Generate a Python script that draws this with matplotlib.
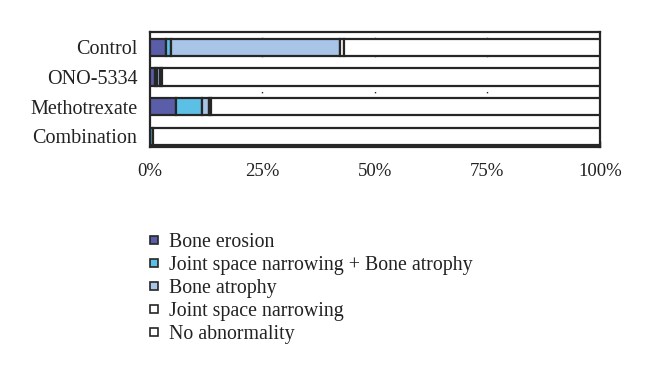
import matplotlib.pyplot as plt
from matplotlib.patches import Patch
import numpy as np

plt.rcParams['font.family'] = ['Liberation Serif', 'DejaVu Serif']

groups = ['Control', 'ONO-5334', 'Methotrexate', 'Combination']
categories = ['Bone erosion', 'Joint space narrowing + Bone atrophy',
              'Bone atrophy', 'Joint space narrowing', 'No abnormality']
colors = ['#5a5ea8', '#5cc0e6', '#a8c4e6', '#ffffff', '#ffffff']

# percentages
bone_erosion = [3.7, 1.1, 5.9, 0.1]
jsn_atrophy = [1.1, 0.5, 5.8, 0.5]
bone_atrophy = [37.5, 0.6, 1.4, 0.0]
jsn = [0.8, 0.4, 0.4, 0.0]
no_abnormality = [100 - a - b - c - d for a, b, c, d in
                  zip(bone_erosion, jsn_atrophy, bone_atrophy, jsn)]

series = [bone_erosion, jsn_atrophy, bone_atrophy, jsn, no_abnormality]

fig = plt.figure(figsize=(6.6, 3.76), dpi=100)
ax = fig.add_axes([0.227, 0.608, 0.682, 0.307])

y = np.arange(len(groups))
left = np.zeros(len(groups))
for vals, col in zip(series, colors):
    ax.barh(y, vals, left=left, height=0.58, color=col,
            edgecolor='#262626', linewidth=1.6, zorder=3)
    left += np.array(vals)

ax.set_xlim(0, 100)
ax.set_ylim(3.38, -0.52)
ax.set_yticks(y)
ax.set_yticklabels(groups, fontsize=14.5, color='#222222')
ax.set_xticks([0, 25, 50, 75, 100])
ax.set_xticklabels(['0%', '25%', '50%', '75%', '100%'], fontsize=13.5, color='#222222')
ax.tick_params(axis='y', length=0, pad=9)
ax.tick_params(axis='x', direction='in', length=4, width=1, color='#262626', pad=11)

for xv in [25, 50, 75]:
    ax.axvline(xv, color='#262626', linewidth=1, linestyle=(0, (1, 12)), zorder=1)

for s in ax.spines.values():
    s.set_linewidth(1.6)
    s.set_color('#262626')

handles = [Patch(facecolor=c, edgecolor='#262626', linewidth=1.2) for c in colors]
fig.legend(handles, categories, loc='upper left', bbox_to_anchor=(150 / 660, 1 - 233 / 376),
           frameon=False, fontsize=14.3, handlelength=0.38, handleheight=0.25,
           handletextpad=0.58, labelspacing=0.2, borderpad=0, borderaxespad=0,
           labelcolor='#222222')

fig.savefig('out.png', dpi=100)
